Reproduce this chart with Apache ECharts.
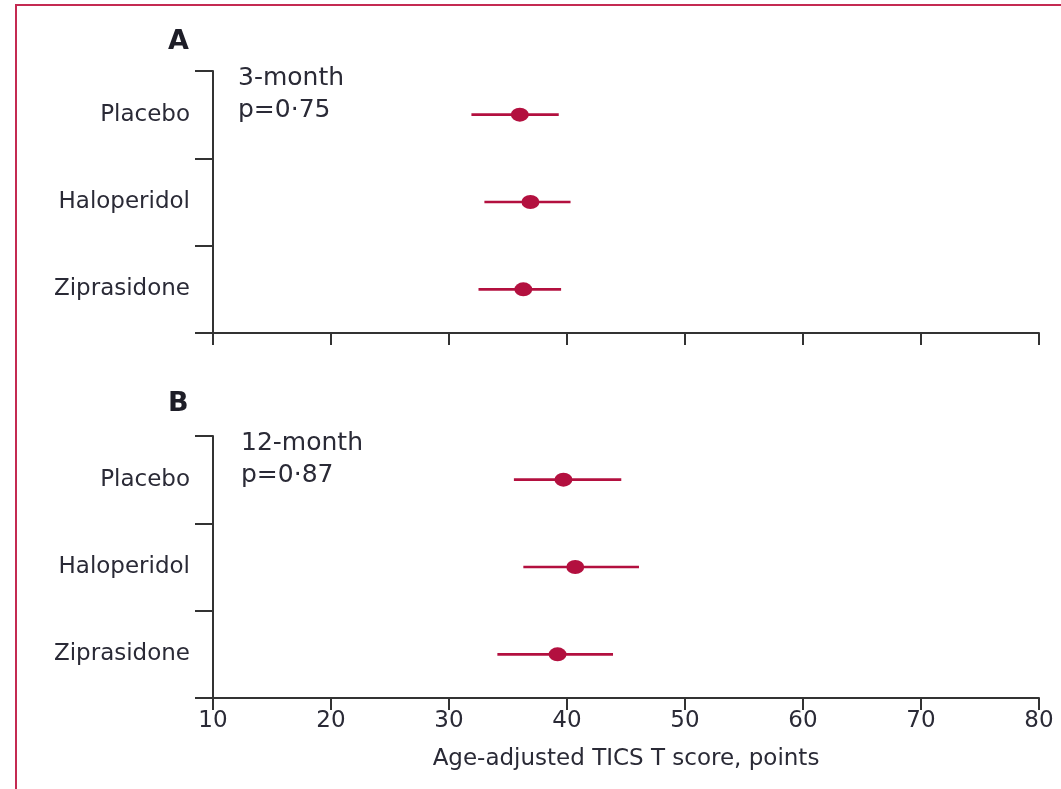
<!DOCTYPE html>
<html>
<head>
<meta charset="utf-8">
<script src="https://cdn.jsdelivr.net/npm/echarts@6/dist/echarts.min.js"></script>
<style>
  html, body { margin: 0; padding: 0; background: #fff; }
  #chart { width: 1061px; height: 789px; }
</style>
</head>
<body>
<div id="chart"></div>
<script>
// Treatment groups (top to bottom)
const groups = ['Placebo', 'Haloperidol', 'Ziprasidone'];

// Panel A: 3-month age-adjusted TICS T score, mean with 95% CI
const mean3 = [36.0, 36.9, 36.3];
const lower3 = [31.9, 33.0, 32.5];
const upper3 = [39.3, 40.3, 39.5];

// Panel B: 12-month
const mean12 = [39.7, 40.7, 39.2];
const lower12 = [35.5, 36.3, 34.1];
const upper12 = [44.6, 46.1, 43.9];

// Shared x scale
const xMin = 10;
const xMax = 80;
const xStep = 10;

const textColor = '#2a2a36';
const axisColor = '#333333';
const markColor = '#b3103f';
const fontFamily = 'DejaVu Sans, sans-serif';

const chart = echarts.init(document.getElementById('chart'), null, { renderer: 'canvas' });

function xAxisFor(gridIndex, showLabels) {
  return {
    type: 'value',
    gridIndex: gridIndex,
    min: xMin,
    max: xMax,
    interval: xStep,
    splitLine: { show: false },
    axisLine: { show: true, lineStyle: { color: axisColor, width: 2 } },
    axisTick: { show: true, length: 12, lineStyle: { color: axisColor, width: 2 } },
    axisLabel: {
      show: showLabels,
      margin: 12,
      color: textColor,
      fontFamily: fontFamily,
      fontSize: 23
    },
    name: showLabels ? 'Age-adjusted TICS T score, points' : '',
    nameLocation: 'middle',
    nameGap: 50,
    nameTextStyle: { color: textColor, fontFamily: fontFamily, fontSize: 23 }
  };
}

function yAxisFor(gridIndex) {
  return {
    type: 'category',
    gridIndex: gridIndex,
    data: groups,
    inverse: true,
    boundaryGap: true,
    axisLine: { show: true, lineStyle: { color: axisColor, width: 2 } },
    axisTick: { show: true, length: 18, alignWithLabel: false, lineStyle: { color: axisColor, width: 2 } },
    axisLabel: {
      margin: 23,
      color: textColor,
      fontFamily: fontFamily,
      fontSize: 23
    },
    splitLine: { show: false }
  };
}

function errorBars(idx, lower, upper) {
  return {
    type: 'custom',
    xAxisIndex: idx,
    yAxisIndex: idx,
    data: groups.map((g, i) => [lower[i], upper[i], g]),
    encode: { x: [0, 1], y: 2 },
    renderItem: function (params, api) {
      const a = api.coord([api.value(0), api.value(2)]);
      const b = api.coord([api.value(1), api.value(2)]);
      return {
        type: 'line',
        shape: { x1: a[0], y1: a[1], x2: b[0], y2: b[1] },
        style: { stroke: markColor, lineWidth: 2.6 }
      };
    },
    silent: true,
    z: 2
  };
}

function points(idx, mean) {
  return {
    type: 'scatter',
    xAxisIndex: idx,
    yAxisIndex: idx,
    data: groups.map((g, i) => [mean[i], g]),
    symbol: 'circle',
    symbolSize: [18, 14],
    itemStyle: { color: markColor, opacity: 1 },
    silent: true,
    z: 3
  };
}

const option = {
  backgroundColor: '#ffffff',
  animation: false,
  grid: [
    { left: 213, right: 22, top: 71, height: 262 },
    { left: 213, right: 22, top: 436, height: 262 }
  ],
  xAxis: [xAxisFor(0, false), xAxisFor(1, true)],
  yAxis: [yAxisFor(0), yAxisFor(1)],
  series: [
    errorBars(0, lower3, upper3),
    points(0, mean3),
    errorBars(1, lower12, upper12),
    points(1, mean12)
  ],
  graphic: [
    {
      type: 'rect',
      shape: { x: 16, y: 5, width: 1200, height: 900 },
      style: { fill: 'none', stroke: '#c42a52', lineWidth: 2 },
      silent: true
    },
    {
      type: 'text', left: 168, top: 28,
      style: { text: 'A', fill: '#1e1e28', font: 'bold 27px ' + fontFamily }
    },
    {
      type: 'text', left: 238, top: 62,
      style: { text: '3-month\np=0·75', fill: textColor, font: '25px ' + fontFamily, lineHeight: 32 }
    },
    {
      type: 'text', left: 168, top: 390,
      style: { text: 'B', fill: '#1e1e28', font: 'bold 27px ' + fontFamily }
    },
    {
      type: 'text', left: 241, top: 427,
      style: { text: '12-month\np=0·87', fill: textColor, font: '25px ' + fontFamily, lineHeight: 32 }
    }
  ]
};

chart.setOption(option);
</script>
</body>
</html>
